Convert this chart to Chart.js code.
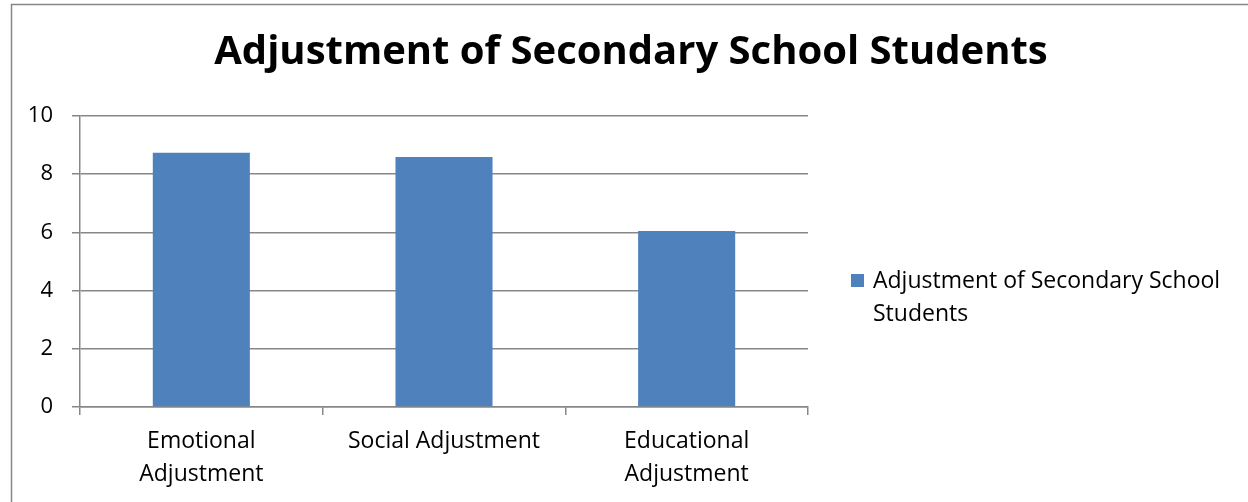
<!DOCTYPE html>
<html>
<head>
<meta charset="utf-8">
<title>Adjustment of Secondary School Students</title>
<script src="https://cdn.jsdelivr.net/npm/chart.js@4.4.1/dist/chart.umd.min.js"></script>
<style>
  html, body { margin: 0; padding: 0; background: #ffffff; }
  canvas { display: block; }
</style>
</head>
<body>
<canvas id="chart" width="1248" height="502"></canvas>
<script>
// Categories (multi-line labels as arrays), series and axis ticks
const categories = [['Emotional', 'Adjustment'], 'Social Adjustment', ['Educational', 'Adjustment']];
const seriesName = 'Adjustment of Secondary School Students';
const seriesValues = [8.74, 8.59, 6.05];
const yTickValues = [0, 2, 4, 6, 8, 10];

const FONT = '"Open Sans", "DejaVu Sans", sans-serif';
const BAR_COLOR = '#4f81bd';
const GRID_COLOR = '#878787';

// Frame around the chart (left and top edges visible) and the centred title
const framePlugin = {
  id: 'frame',
  beforeDraw(chart) {
    const ctx = chart.ctx;
    ctx.save();
    ctx.strokeStyle = GRID_COLOR;
    ctx.lineWidth = 1.5;
    ctx.beginPath();
    ctx.moveTo(11.5, chart.height + 2);
    ctx.lineTo(11.5, 4.5);
    ctx.lineTo(chart.width + 2, 4.5);
    ctx.stroke();

    ctx.fillStyle = '#000000';
    ctx.font = 'bold 40px ' + FONT;
    ctx.textAlign = 'center';
    ctx.textBaseline = 'alphabetic';
    ctx.fillText(seriesName, 631, 64);
    ctx.restore();
  }
};

// Legend on the right with word-wrapped label
const sideLegend = {
  id: 'sideLegend',
  afterDraw(chart) {
    const ctx = chart.ctx;
    const ds = chart.data.datasets[0];
    const boxX = 851, boxY = 274, box = 13;
    const textX = 873, firstLine = 281, lineGap = 33, maxW = 370;
    ctx.save();
    ctx.font = '23px ' + FONT;
    ctx.fillStyle = ds.backgroundColor;
    ctx.fillRect(boxX, boxY, box, box);
    // simple word wrap
    const words = ds.label.split(' ');
    const lines = [];
    let cur = '';
    for (const w of words) {
      const test = cur ? cur + ' ' + w : w;
      if (ctx.measureText(test).width > maxW && cur) { lines.push(cur); cur = w; }
      else cur = test;
    }
    if (cur) lines.push(cur);
    ctx.fillStyle = '#000000';
    ctx.textBaseline = 'middle';
    ctx.textAlign = 'left';
    lines.forEach((ln, i) => ctx.fillText(ln, textX, firstLine + i * lineGap));
    ctx.restore();
  }
};

new Chart(document.getElementById('chart'), {
  type: 'bar',
  data: {
    labels: categories,
    datasets: [{
      label: seriesName,
      data: seriesValues,
      backgroundColor: BAR_COLOR,
      borderWidth: 0,
      categoryPercentage: 1.0,
      barPercentage: 0.4
    }]
  },
  options: {
    responsive: false,
    animation: false,
    devicePixelRatio: 1,
    layout: { padding: { left: 0, right: 440, top: 116, bottom: 0 } },
    plugins: {
      legend: { display: false },
      tooltip: { enabled: false },
      title: { display: false }
    },
    scales: {
      x: {
        grid: { display: true, drawOnChartArea: false, drawTicks: true, tickLength: 8, offset: true, color: GRID_COLOR, lineWidth: 1.5 },
        border: { display: true, color: GRID_COLOR, width: 1.5 },
        ticks: {
          color: '#000000',
          font: { family: FONT, size: 23, lineHeight: 1.42 },
          padding: 10,
          autoSkip: false,
          maxRotation: 0,
          minRotation: 0
        },
        afterFit(scale) { scale.height = 95; }
      },
      y: {
        min: 0,
        max: 10,
        afterBuildTicks(scale) { scale.ticks = yTickValues.map(v => ({ value: v })); },
        grid: { color: GRID_COLOR, lineWidth: 1.5, tickLength: 8 },
        border: { display: true, color: GRID_COLOR, width: 1.5 },
        ticks: {
          color: '#000000',
          font: { family: FONT, size: 22 },
          padding: 19
        },
        afterFit(scale) { scale.width = 80; }
      }
    }
  },
  plugins: [framePlugin, sideLegend]
});
</script>
</body>
</html>
